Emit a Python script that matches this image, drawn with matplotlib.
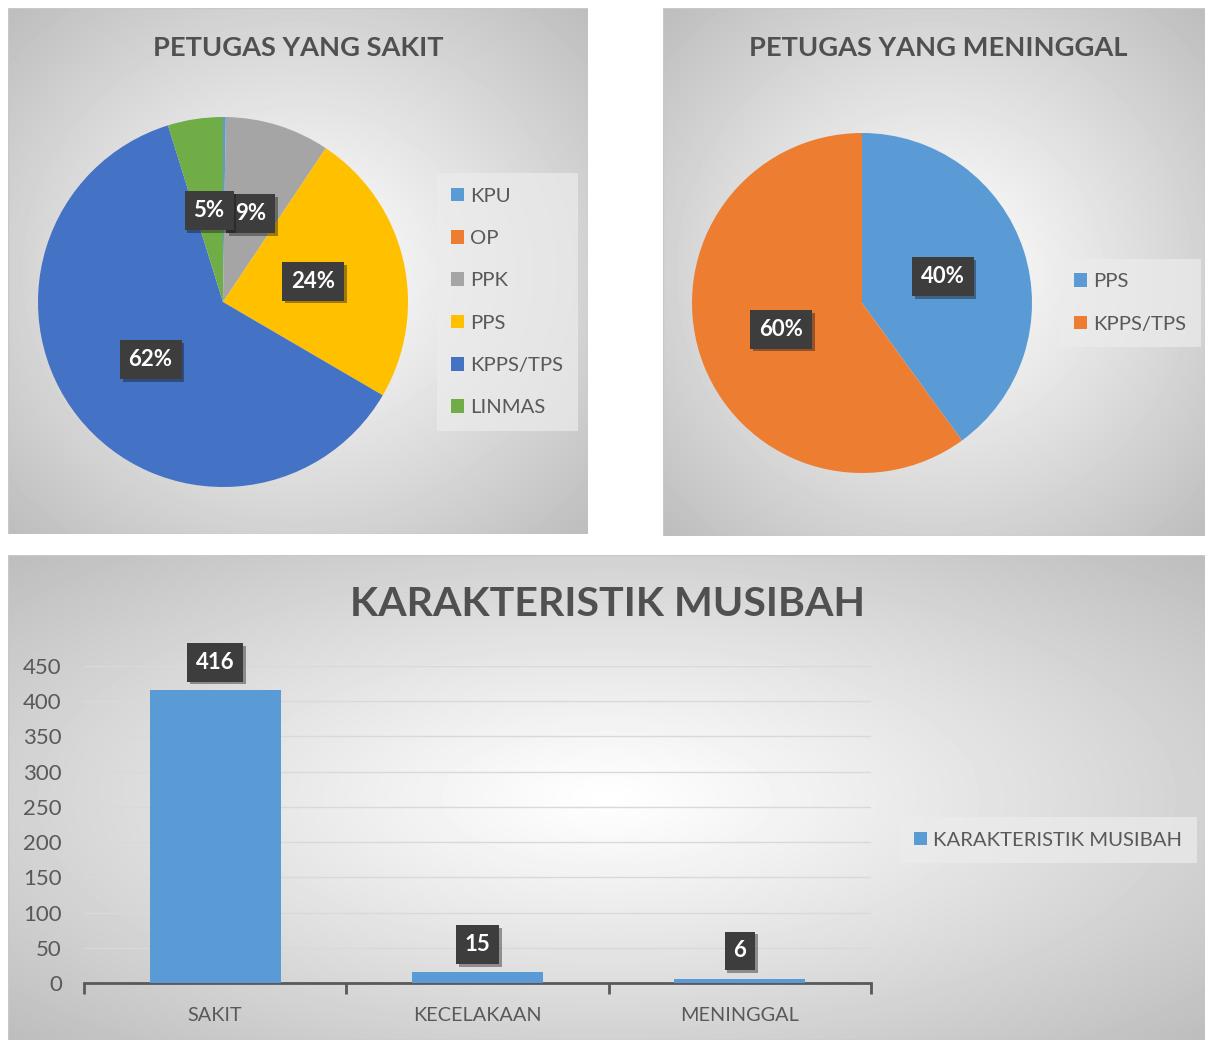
import numpy as np
import matplotlib
matplotlib.use("Agg")
import matplotlib.pyplot as plt
from matplotlib.patches import Patch, Rectangle
import matplotlib.patheffects as pe

plt.rcParams['font.family'] = ['Lato', 'DejaVu Sans']

# data
sakit_labels = ['KPU', 'OP', 'PPK', 'PPS', 'KPPS/TPS', 'LINMAS']
sakit_values = [1, 0, 38, 100, 257, 20]
sakit_colors = ['#5b9bd5', '#ed7d31', '#a5a5a5', '#ffc000', '#4472c4', '#70ad47']

mati_labels = ['PPS', 'KPPS/TPS']
mati_values = [2, 3]
mati_colors = ['#5b9bd5', '#ed7d31']

bar_cats = ['SAKIT', 'KECELAKAAN', 'MENINGGAL']
bar_values = [416, 15, 6]
bar_color = '#5b9bd5'

W, H = 1206, 1041
TXT = '#595959'
fig = plt.figure(figsize=(W / 100, H / 100), dpi=100)


def rect(x0, y0, x1, y1):
    # pixel box (top-left origin) -> figure fraction
    return [x0 / W, 1 - y1 / H, (x1 - x0) / W, (y1 - y0) / H]


def panel(x0, y0, x1, y1):
    bg = fig.add_axes(rect(x0, y0, x1, y1), zorder=0)
    w, h = x1 - x0, y1 - y0
    yy, xx = np.mgrid[0:h, 0:w]
    d = np.sqrt(((xx - w / 2) / (w / 2)) ** 2 + ((yy - h / 2) / (h / 2)) ** 2) / np.sqrt(2)
    img = 1 - 0.26 * d ** 1.1
    bg.imshow(img, cmap='gray', vmin=0, vmax=1, aspect='auto', interpolation='bilinear')
    bg.set_axis_off()
    bg.add_patch(Rectangle((0, 0), 1, 1, transform=bg.transAxes, fill=False,
                           edgecolor='#c8c8c8', lw=1))


LBL_BOX = dict(boxstyle='square,pad=0.4', facecolor='#3d3d3d', edgecolor='none')


def shadow(t):
    t.get_bbox_patch().set_path_effects([pe.SimplePatchShadow(offset=(2, -2), alpha=0.4), pe.Normal()])


def box_label(ax, x, y, s):
    t = ax.text(x, y, s, color='white', fontsize=16, fontweight='bold', ha='center',
                va='center', zorder=10, bbox=LBL_BOX)
    shadow(t)
    return t


def legend_box(ax, labels, colors, anchor, spacing):
    handles = [Patch(facecolor=c, edgecolor='none') for c in colors]
    lg = ax.legend(handles, labels, loc='center left', bbox_to_anchor=anchor,
                   bbox_transform=fig.transFigure, frameon=True, fancybox=False,
                   handlelength=0.65, handleheight=0.65, handletextpad=0.3,
                   labelspacing=spacing, fontsize=14.6, labelcolor=TXT, borderpad=0.7,
                   borderaxespad=0)
    fr = lg.get_frame()
    fr.set_facecolor('#ececec')
    fr.set_alpha(0.7)
    fr.set_edgecolor('none')


panel(8, 8, 588, 534)
panel(663, 8, 1205, 536)
panel(8, 555, 1205, 1040)

# pie 1
ax1 = fig.add_axes(rect(38, 117, 408, 487), zorder=2)
tot1 = sum(sakit_values)
ax1.pie(sakit_values, colors=sakit_colors, startangle=90, counterclock=False, radius=1)
ax1.set_xlim(-1, 1)
ax1.set_ylim(-1, 1)
ax1.set_aspect('equal')
start = 0
for v in sakit_values:
    mid = (start + v / 2) / tot1 * 2 * np.pi
    start += v
    pct = v / tot1 * 100
    if pct >= 1:
        box_label(ax1, 0.5 * np.sin(mid), 0.5 * np.cos(mid), f'{pct:.0f}%')
fig.text(298 / W, 1 - 48 / H, 'PETUGAS YANG SAKIT', ha='center', va='center',
         fontsize=19.6, fontweight='bold', color='#505050')
legend_box(ax1, sakit_labels, sakit_colors, (437 / W, 1 - 302 / H), 1.25)

# pie 2
ax2 = fig.add_axes(rect(692, 133, 1032, 473), zorder=2)
tot2 = sum(mati_values)
ax2.pie(mati_values, colors=mati_colors, startangle=90, counterclock=False, radius=1)
ax2.set_xlim(-1, 1)
ax2.set_ylim(-1, 1)
ax2.set_aspect('equal')
start = 0
for v in mati_values:
    mid = (start + v / 2) / tot2 * 2 * np.pi
    start += v
    box_label(ax2, 0.5 * np.sin(mid), 0.5 * np.cos(mid), f'{v / tot2 * 100:.0f}%')
fig.text(938 / W, 1 - 48 / H, 'PETUGAS YANG MENINGGAL', ha='center', va='center',
         fontsize=19.6, fontweight='bold', color='#505050')
legend_box(ax2, mati_labels, mati_colors, (1060 / W, 1 - 303 / H), 1.25)

# bar chart
ax3 = fig.add_axes(rect(84, 666, 871, 983), zorder=2)
ax3.patch.set_visible(False)
x = np.arange(len(bar_cats))
ax3.bar(x, bar_values, width=0.5, color=bar_color, zorder=3)
ax3.set_xlim(-0.5, len(bar_cats) - 0.5)
ax3.set_ylim(0, 450)
ax3.set_yticks(np.arange(0, 451, 50))
ax3.yaxis.grid(True, color='#d9d9d9', lw=1)
ax3.set_axisbelow(True)
for s in ['top', 'right', 'left']:
    ax3.spines[s].set_visible(False)
ax3.spines['bottom'].set_color(TXT)
ax3.spines['bottom'].set_linewidth(2)
ax3.set_xticks(x)
ax3.set_xticklabels(bar_cats)
ax3.set_xticks(np.arange(-0.5, len(bar_cats)), minor=True)
ax3.tick_params(axis='x', which='major', length=0, pad=17, labelsize=14.3, labelcolor=TXT)
ax3.tick_params(axis='x', which='minor', length=8, width=2, color=TXT, direction='out')
ax3.tick_params(axis='y', length=0, pad=16, labelsize=16, labelcolor=TXT)
for xi, v in zip(x, bar_values):
    t = ax3.annotate(str(v), (xi, v), xytext=(0, 20), textcoords='offset points',
                     color='white', fontsize=16, fontweight='bold', ha='center', va='center',
                     zorder=10, bbox=LBL_BOX)
    shadow(t)
fig.text(608 / W, 1 - 605 / H, 'KARAKTERISTIK MUSIBAH', ha='center', va='center',
         fontsize=29.6, fontweight='bold', color='#505050')
legend_box(ax3, ['KARAKTERISTIK MUSIBAH'], [bar_color], (900 / W, 1 - 840 / H), 1.0)

fig.savefig('out.png', dpi=100)
